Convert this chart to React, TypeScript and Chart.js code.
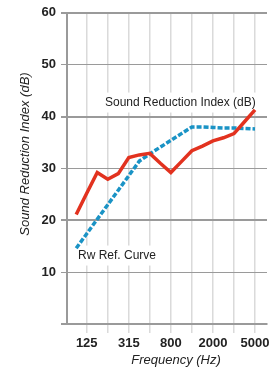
import { useEffect, useRef } from 'react';
import { Chart, registerables } from 'chart.js';

Chart.register(...registerables);

const frequencies = ['100', '125', '160', '200', '250', '315', '400', '500', '630', '800', '1000', '1250', '1600', '2000', '2500', '3150', '4000', '5000'];
const soundReductionIndex = [21.1, 25.2, 29.2, 27.9, 29.0, 32.1, 32.6, 32.9, 31.0, 29.2, 31.3, 33.4, 34.3, 35.3, 35.9, 36.7, 39.0, 41.3];
const rwReferenceCurve = [14.6, 17.4, 20.2, 23.0, 25.8, 28.6, 31.4, 32.8, 34.1, 35.4, 36.7, 38.0, 38.0, 37.9, 37.8, 37.8, 37.7, 37.6];
const xTickLabels = ['125', '315', '800', '2000', '5000'];
const yTickValues = [0, 10, 20, 30, 40, 50, 60];

const FONT = '"Liberation Sans", Arial, Helvetica, sans-serif';

const annotationPlugin = {
  id: 'annotationPlugin',
  beforeDatasetsDraw(chart: any) {
    const { ctx, scales } = chart;
    const xs = scales.x;
    const ys = scales.y;
    const labels = [
      { text: 'Sound Reduction Index (dB)', x: 2.74, y: 42.7 },
      { text: 'Rw Ref. Curve', x: 0.17, y: 13.2 },
    ];
    ctx.save();
    ctx.font = '12px ' + FONT;
    ctx.textBaseline = 'middle';
    ctx.textAlign = 'left';
    for (const l of labels) {
      const px = xs.getPixelForValue(l.x);
      const py = ys.getPixelForValue(l.y);
      const w = ctx.measureText(l.text).width;
      ctx.fillStyle = '#ffffff';
      ctx.fillRect(px - 3, py - 10, w + 6, 20);
      ctx.fillStyle = '#222222';
      ctx.fillText(l.text, px, py);
    }
    ctx.restore();
  },
  afterDraw(chart: any) {
    const { ctx } = chart;
    ctx.save();
    ctx.fillStyle = '#222222';
    ctx.font = 'italic 13px ' + FONT;
    ctx.textAlign = 'center';
    ctx.textBaseline = 'middle';
    ctx.fillText('Frequency (Hz)', 176, 360);
    ctx.translate(25, 154);
    ctx.rotate(-Math.PI / 2);
    ctx.fillText('Sound Reduction Index (dB)', 0, 0);
    ctx.restore();
  },
};

export default function App() {
  const ref = useRef<HTMLCanvasElement>(null);

  useEffect(() => {
    document.body.style.margin = '0';
    const canvas = ref.current!;
    const chart = new Chart(canvas, {
      type: 'line',
      data: {
        datasets: [
          {
            label: 'Sound Reduction Index (dB)',
            data: soundReductionIndex.map((v, i) => ({ x: i, y: v })),
            borderColor: '#e2321f',
            borderWidth: 3.5,
            pointRadius: 0,
            tension: 0,
            fill: false,
          },
          {
            label: 'Rw Ref. Curve',
            data: rwReferenceCurve.map((v, i) => ({ x: i, y: v })),
            borderColor: '#1a93c5',
            borderWidth: 3.5,
            borderDash: [5, 2],
            pointRadius: 0,
            tension: 0,
            fill: false,
          },
        ],
      },
      options: {
        animation: false,
        responsive: false,
        devicePixelRatio: 1,
        layout: { padding: { top: 11, right: 12, left: 0, bottom: 0 } },
        plugins: {
          legend: { display: false },
          tooltip: { enabled: false },
          title: { display: false },
        },
        scales: {
          x: {
            type: 'linear',
            min: -0.875,
            max: 18.14,
            afterFit: (s: any) => {
              s.height = 47;
            },
            afterBuildTicks: (s: any) => {
              const t = [];
              for (let i = 1; i < frequencies.length; i += 2) t.push({ value: i });
              s.ticks = t;
            },
            grid: {
              color: '#dadada',
              lineWidth: 1.5,
              tickLength: 9,
            },
            border: { display: true, color: '#9a9a9a', width: 2 },
            ticks: {
              autoSkip: false,
              maxRotation: 0,
              padding: 3,
              color: '#222222',
              font: { family: FONT, size: 13, weight: 'bold' },
              callback: (v: any) => {
                const f = frequencies[Math.round(Number(v))];
                return xTickLabels.includes(f) ? f : '';
              },
            },
          },
          y: {
            type: 'linear',
            min: yTickValues[0],
            max: yTickValues[yTickValues.length - 1],
            afterFit: (s: any) => {
              s.width = 67;
            },
            afterBuildTicks: (s: any) => {
              s.ticks = yTickValues.map((v) => ({ value: v }));
            },
            grid: {
              color: '#9a9a9a',
              lineWidth: (c: any) => (c.tick && c.tick.value % 20 === 0 ? 2 : 1),
              tickLength: 6,
            },
            border: { display: true, color: '#9a9a9a', width: 2 },
            ticks: {
              padding: 5,
              color: '#222222',
              font: { family: FONT, size: 13, weight: 'bold' },
              callback: (v: any) => (Number(v) === 0 ? '' : String(v)),
            },
          },
        },
      },
      plugins: [annotationPlugin],
    } as any);
    return () => chart.destroy();
  }, []);

  return (
    <div style={{ width: 279, height: 371 }}>
      <canvas ref={ref} width={279} height={371} style={{ display: 'block', width: 279, height: 371 }} />
    </div>
  );
}
